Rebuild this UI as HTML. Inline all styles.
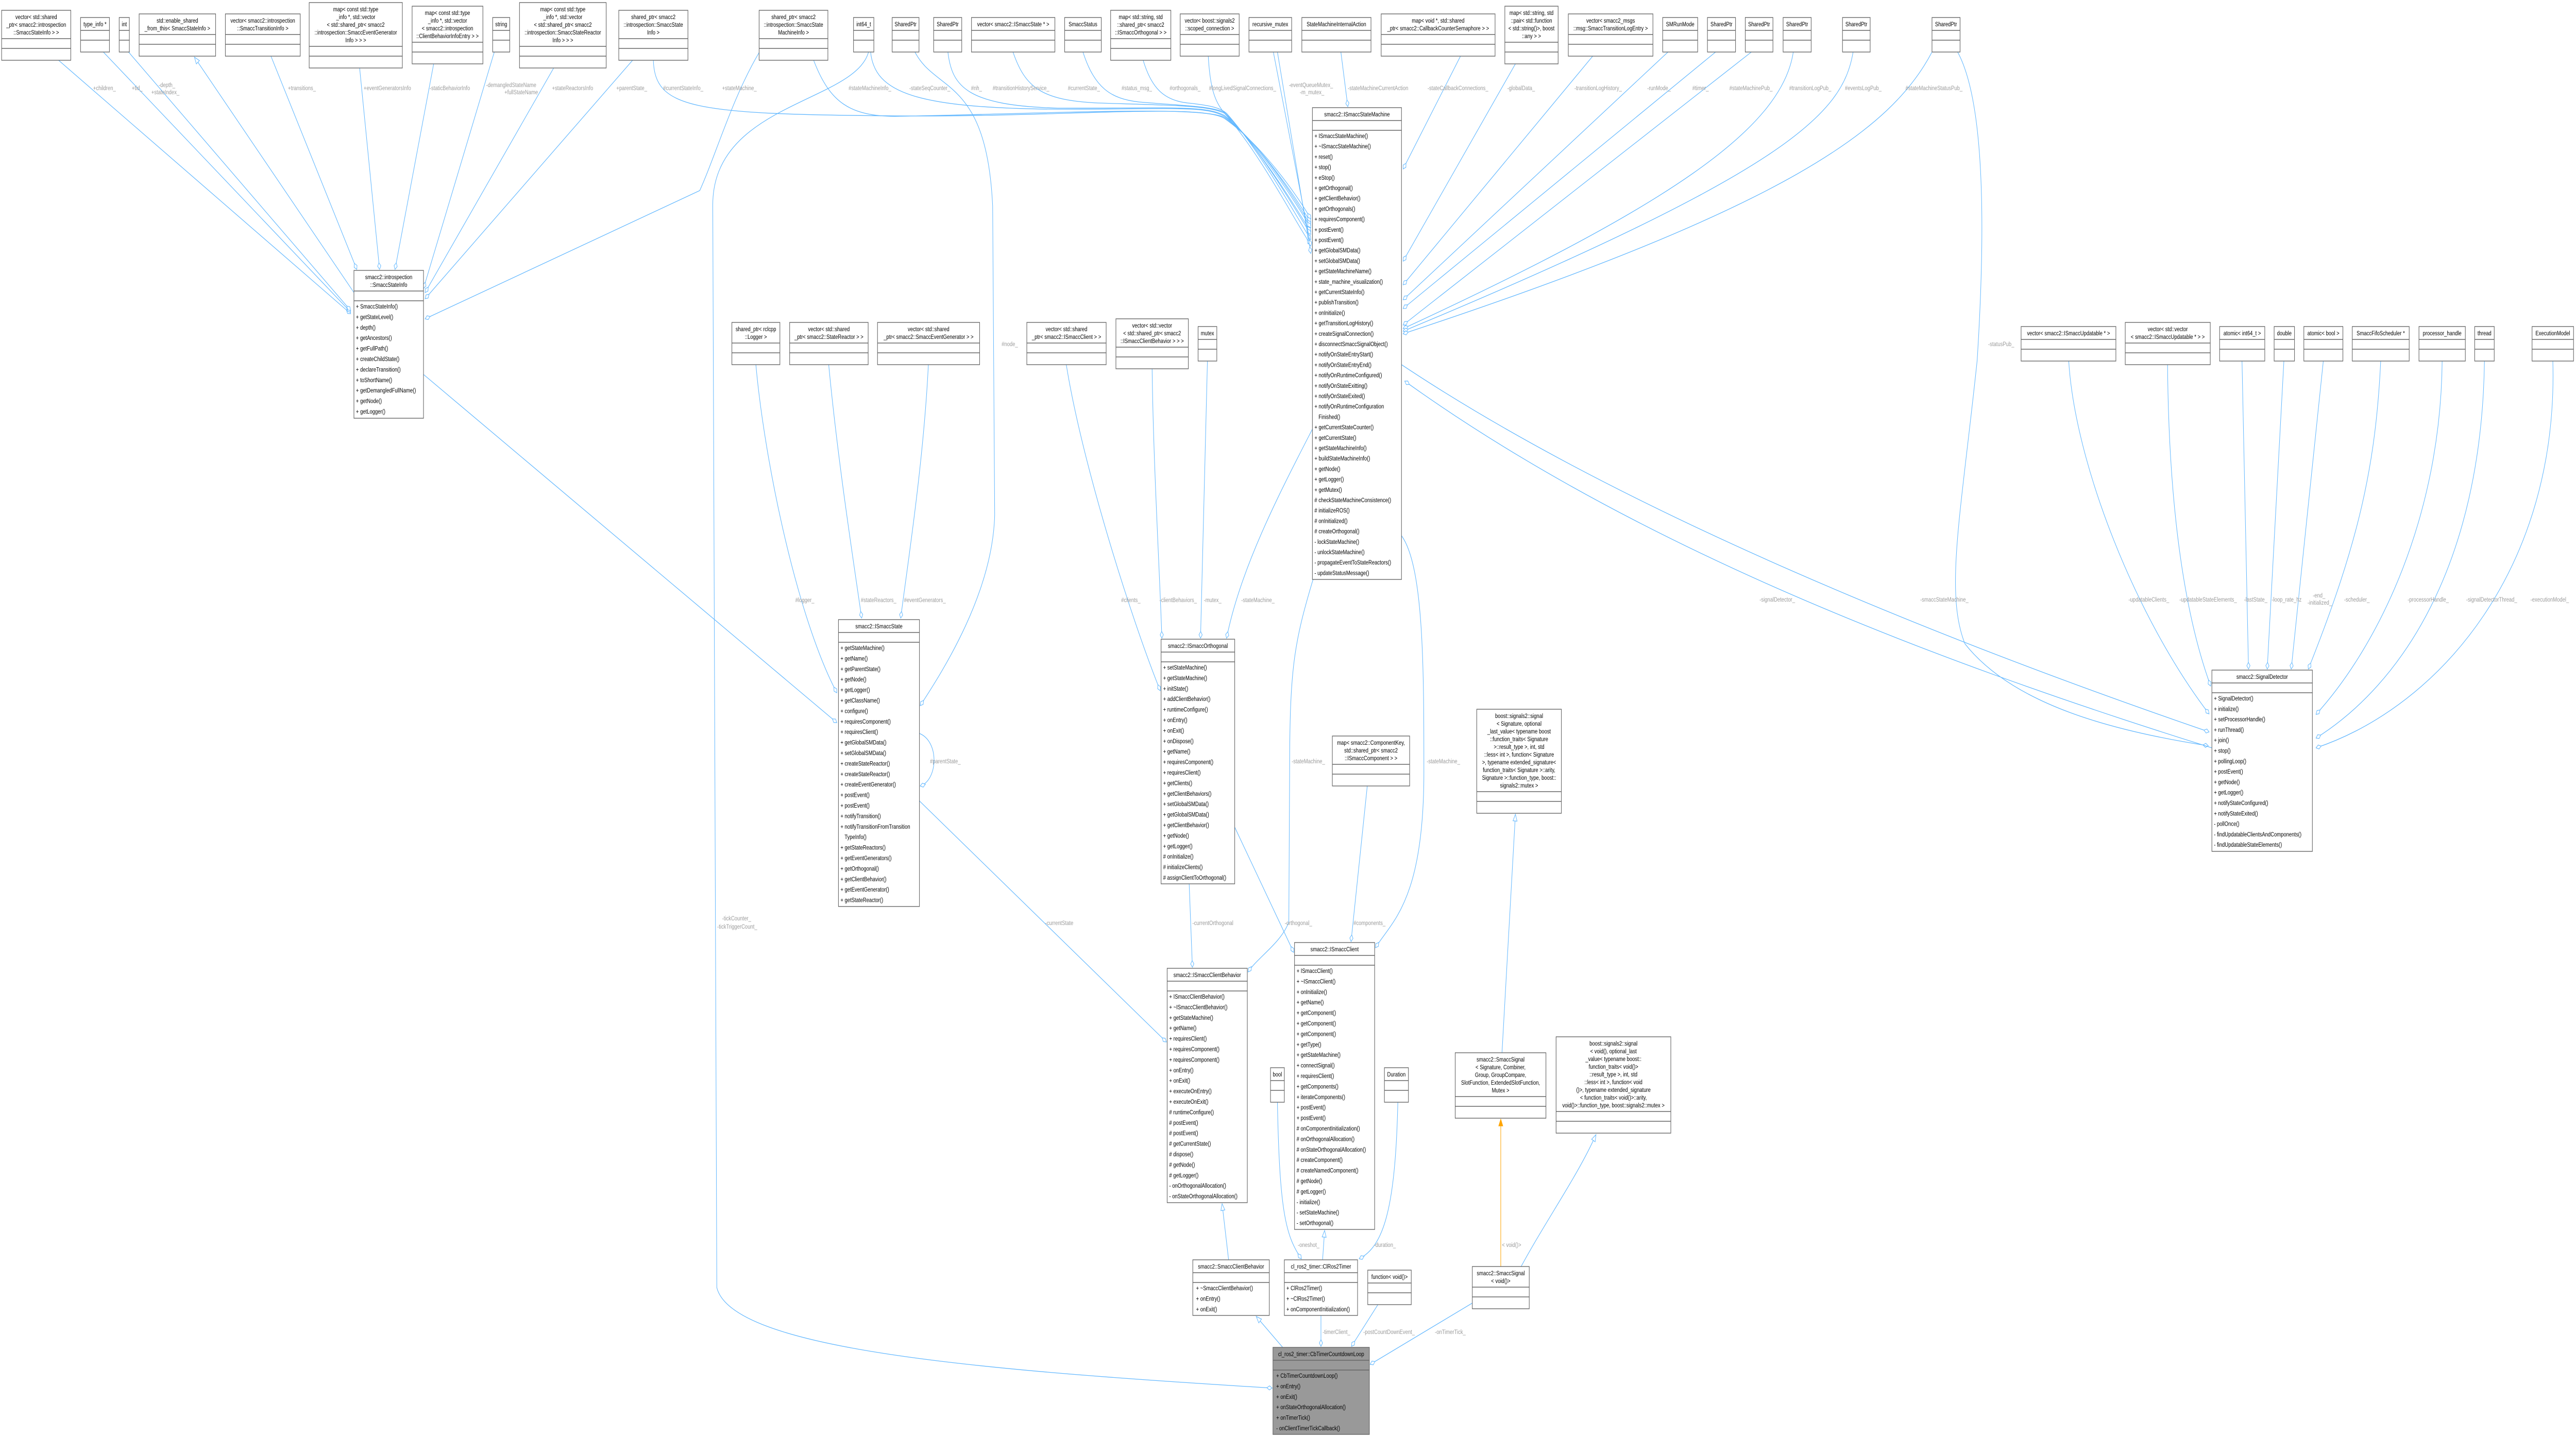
<!DOCTYPE html>
<html><head><meta charset="utf-8"><style>
html,body{margin:0;padding:0;background:#fff;overflow:hidden;width:100vw;height:100vh;}
svg{display:block;position:absolute;left:0;top:0;width:100vw;height:100vh;font-family:"Liberation Sans",Arial,sans-serif;}
.b{fill:#fff;stroke:#666;stroke-width:1.4}
.g{fill:#999;stroke:#666;stroke-width:1.4}
.s{stroke:#666;stroke-width:1.4;fill:none}
.t{font-size:12px;fill:#000;text-anchor:middle}
.m{font-size:12px;fill:#000}
.l{font-size:12px;fill:#9a9a9a}
.e{fill:none;stroke:#63b8ff;stroke-width:1.3}
.eo{fill:none;stroke:#ffa500;stroke-width:1.3}
</style></head><body>
<svg viewBox="0 0 6332 2790" preserveAspectRatio="none" xmlns="http://www.w3.org/2000/svg">
<defs>
<marker id="d" markerWidth="16" markerHeight="10" refX="14" refY="5" orient="auto" markerUnits="userSpaceOnUse"><path d="M1,5 L7.5,1 L14,5 L7.5,9 Z" fill="#fff" stroke="#63b8ff" stroke-width="1.2"/></marker>
<marker id="t" markerWidth="16" markerHeight="12" refX="14" refY="6" orient="auto" markerUnits="userSpaceOnUse"><path d="M1,1 L14,6 L1,11 Z" fill="#fff" stroke="#63b8ff" stroke-width="1.2"/></marker>
<marker id="o" markerWidth="16" markerHeight="12" refX="14" refY="6" orient="auto" markerUnits="userSpaceOnUse"><path d="M1,1 L14,6 L1,11 Z" fill="#ffa500" stroke="#ffa500" stroke-width="1.2"/></marker>
</defs>

<g>
<path class="e" marker-end="url(#d)" d="M144,117 L862,609"/>
<path class="e" marker-end="url(#d)" d="M254,101 L862,606"/>
<path class="e" marker-end="url(#d)" d="M316,101 L862,603"/>
<path class="e" marker-end="url(#t)" d="M870,568 L478,111"/>
<path class="e" marker-end="url(#d)" d="M666,109 L877,523"/>
<path class="e" marker-end="url(#d)" d="M884,132 L933,523"/>
<path class="e" marker-end="url(#d)" d="M1066,124 L971,523"/>
<path class="e" marker-end="url(#d)" d="M1215,101 L1041,560"/>
<path class="e" marker-end="url(#d)" d="M1361,132 L1045,568"/>
<path class="e" marker-end="url(#d)" d="M1555,117 L1045,580"/>
<path class="e" marker-end="url(#d)" d="M1866,102 C1800,190 1760,300 1720,370 L1045,619"/>
<path class="e" marker-end="url(#d)" d="M1606,117 C1610,210 1700,222 2200,225 C2600,228 2950,200 3010,230 C3100,280 3190,380 3222,425"/>
<path class="e" marker-end="url(#d)" d="M2000,117 C2040,200 2090,225 2200,226 C2600,220 2950,205 3010,228 C3100,280 3190,390 3222,432"/>
<path class="e" marker-end="url(#d)" d="M2140,101 C2150,180 2250,210 2600,212 C2900,212 2960,205 3010,226 C3100,280 3190,395 3222,438"/>
<path class="e" marker-end="url(#d)" d="M2330,101 C2340,170 2380,205 2600,210 C2900,210 2960,205 3010,224 C3100,285 3190,400 3222,442"/>
<path class="e" marker-end="url(#d)" d="M2490,101 C2520,170 2560,195 2700,200 C2900,205 2970,205 3010,220 C3100,290 3190,410 3222,450"/>
<path class="e" marker-end="url(#d)" d="M2662,101 C2690,170 2730,192 2800,198 C2900,205 2970,205 3010,218 C3100,290 3190,415 3222,455"/>
<path class="e" marker-end="url(#d)" d="M2810,117 C2830,170 2860,195 2920,200 C2980,205 3000,210 3015,220 C3100,295 3190,425 3222,465"/>
<path class="e" marker-end="url(#d)" d="M2970,109 C2975,180 2990,200 3010,220 C3100,300 3190,440 3222,475"/>
<path class="e" marker-end="url(#d)" d="M3130,101 L3222,478"/>
<path class="e" marker-end="url(#d)" d="M3140,101 L3222,492"/>
<path class="e" marker-end="url(#d)" d="M3296,101 L3313,207"/>
<path class="e" marker-end="url(#d)" d="M3590,109 L3449,328"/>
<path class="e" marker-end="url(#d)" d="M3725,124 L3449,507"/>
<path class="e" marker-end="url(#d)" d="M3915,109 L3449,553"/>
<path class="e" marker-end="url(#d)" d="M4100,101 L3449,582"/>
<path class="e" marker-end="url(#d)" d="M4217,101 L3449,599"/>
<path class="e" marker-end="url(#d)" d="M4305,101 L3449,631"/>
<path class="e" marker-end="url(#d)" d="M4408,101 C4380,250 4100,400 3449,638"/>
<path class="e" marker-end="url(#d)" d="M4555,101 C4530,220 4400,330 3449,643"/>
<path class="e" marker-end="url(#d)" d="M4749,101 C4650,250 4400,400 3449,648"/>
<path class="e" marker-end="url(#d)" d="M4812,101 C4880,200 4880,450 4860,700 C4820,1000 4780,1150 4830,1250 C4950,1370 5200,1420 5428,1448"/>
<path class="e" marker-end="url(#d)" d="M3445,708 C4000,1000 4800,1250 5430,1421"/>
<path class="e" marker-end="url(#d)" d="M5437,1452 C4700,1270 4000,1050 3453,740"/>
<path class="e" marker-end="url(#d)" d="M5085,700 C5100,900 5250,1200 5430,1386"/>
<path class="e" marker-end="url(#d)" d="M5328,708 C5330,900 5350,1150 5434,1332"/>
<path class="e" marker-end="url(#d)" d="M5511,700 L5527,1299"/>
<path class="e" marker-end="url(#d)" d="M5614,700 L5573,1299"/>
<path class="e" marker-end="url(#d)" d="M5711,700 L5632,1299"/>
<path class="e" marker-end="url(#d)" d="M5852,700 C5840,900 5800,1050 5674,1299"/>
<path class="e" marker-end="url(#d)" d="M6003,700 C6000,1000 5850,1250 5693,1387"/>
<path class="e" marker-end="url(#d)" d="M6107,700 C6100,1100 5900,1330 5693,1433"/>
<path class="e" marker-end="url(#d)" d="M6275,700 C6290,1100 6000,1370 5693,1452"/>
<path class="e" marker-end="url(#d)" d="M1858,708 C1880,900 1960,1200 2057,1345"/>
<path class="e" marker-end="url(#d)" d="M2037,708 C2060,900 2100,1100 2118,1200"/>
<path class="e" marker-end="url(#d)" d="M2282,708 C2270,900 2230,1100 2214,1200"/>
<path class="e" marker-end="url(#d)" d="M2249,101 C2300,180 2425,150 2440,400 L2445,1000 C2440,1150 2320,1300 2262,1370"/>
<path class="e" marker-end="url(#d)" d="M1041,727 L2057,1403"/>
<path class="e" marker-end="url(#d)" d="M2260,1424 C2310,1440 2305,1515 2262,1526"/>
<path class="e" marker-end="url(#d)" d="M2621,708 C2660,900 2780,1200 2852,1341"/>
<path class="e" marker-end="url(#d)" d="M2832,716 C2835,900 2850,1100 2856,1239"/>
<path class="e" marker-end="url(#d)" d="M2968,700 C2962,900 2955,1100 2951,1239"/>
<path class="e" marker-end="url(#d)" d="M3228,830 C3150,950 3050,1100 3015,1239"/>
<path class="e" marker-end="url(#d)" d="M3228,1124 C3180,1250 3170,1300 3170,1500 L3168,1790 C3150,1830 3090,1860 3068,1887"/>
<path class="e" marker-end="url(#d)" d="M2923,1714 L2931,1878"/>
<path class="e" marker-end="url(#d)" d="M2260,1555 L2867,2023"/>
<path class="e" marker-end="url(#d)" d="M3445,1040 C3500,1100 3500,1300 3500,1500 C3500,1750 3420,1790 3381,1840"/>
<path class="e" marker-end="url(#d)" d="M3035,1606 L3180,1849"/>
<path class="e" marker-end="url(#d)" d="M3361,1525 L3321,1828"/>
<path class="e" marker-end="url(#t)" d="M3020,2446 L3004,2337"/>
<path class="e" marker-end="url(#t)" d="M3153,2616 L3088,2556"/>
<path class="e" marker-end="url(#t)" d="M3251,2446 L3256,2389"/>
<path class="e" marker-end="url(#d)" d="M3140,2140 C3145,2350 3160,2400 3199,2444"/>
<path class="e" marker-end="url(#d)" d="M3436,2140 C3430,2350 3400,2420 3341,2444"/>
<path class="e" marker-end="url(#d)" d="M3247,2554 L3247,2614"/>
<path class="e" marker-end="url(#d)" d="M3387,2533 L3322,2614"/>
<path class="e" marker-end="url(#d)" d="M3619,2530 L3368,2649"/>
<path class="eo" marker-end="url(#o)" d="M3689,2459 L3689,2173"/>
<path class="e" marker-end="url(#t)" d="M3739,2459 C3800,2370 3880,2280 3923,2203"/>
<path class="e" marker-end="url(#t)" d="M3692,2044 L3725,1581"/>
<path class="e" marker-end="url(#d)" d="M2135,101 C2100,200 1750,200 1752,400 L1762,2500 C1800,2620 2400,2660 3127,2695"/>
</g>

<g class="l">
<text x="229" y="175">+children_</text>
<text x="324" y="175">+tid_</text>
<text x="390" y="169">-depth_</text><text x="372" y="183">+stateIndex_</text>
<text x="708" y="175">+transitions_</text>
<text x="894" y="175">+eventGeneratorsInfo</text>
<text x="1056" y="175">-staticBehaviorInfo</text>
<text x="1195" y="169">-demangledStateName</text><text x="1240" y="183">+fullStateName</text>
<text x="1357" y="175">+stateReactorsInfo</text>
<text x="1515" y="175">+parentState_</text>
<text x="1630" y="175">#currentStateInfo_</text>
<text x="1775" y="175">+stateMachine_</text>
<text x="2086" y="175">#stateMachineInfo_</text>
<text x="2235" y="175">-stateSeqCounter_</text>
<text x="2387" y="175">#nh_</text>
<text x="2440" y="175">#transitionHistoryService_</text>
<text x="2625" y="175">#currentState_</text>
<text x="2757" y="175">#status_msg_</text>
<text x="2875" y="175">#orthogonals_</text>
<text x="2972" y="175">#longLivedSignalConnections_</text>
<text x="3168" y="169">-eventQueueMutex_</text><text x="3195" y="183">-m_mutex_</text>
<text x="3313" y="175">-stateMachineCurrentAction</text>
<text x="3509" y="175">-stateCallbackConnections_</text>
<text x="3705" y="175">-globalData_</text>
<text x="3870" y="175">-transitionLogHistory_</text>
<text x="4049" y="175">-runMode_</text>
<text x="4160" y="175">#timer_</text>
<text x="4251" y="175">#stateMachinePub_</text>
<text x="4398" y="175">#transitionLogPub_</text>
<text x="4535" y="175">#eventsLogPub_</text>
<text x="4684" y="175">#stateMachineStatusPub_</text>
<text x="2462" y="672">#node_</text>
<text x="4887" y="672">-statusPub_</text>
<text x="1955" y="1169">#logger_</text>
<text x="2116" y="1169">#stateReactors_</text>
<text x="2222" y="1169">#eventGenerators_</text>
<text x="2756" y="1169">#clients_</text>
<text x="2850" y="1169">-clientBehaviors_</text>
<text x="2959" y="1169">-mutex_</text>
<text x="3051" y="1169">-stateMachine_</text>
<text x="4325" y="1168">-signalDetector_</text>
<text x="4720" y="1168">-smaccStateMachine_</text>
<text x="5232" y="1168">-updatableClients_</text>
<text x="5357" y="1168">-updatableStateElements_</text>
<text x="5516" y="1168">-lastState_</text>
<text x="5584" y="1168">-loop_rate_hz</text>
<text x="5685" y="1160">-end_</text><text x="5672" y="1174">-initialized_</text>
<text x="5762" y="1168">-scheduler_</text>
<text x="5918" y="1168">-processorHandle_</text>
<text x="6062" y="1168">-signalDetectorThread_</text>
<text x="6220" y="1168">-executionModel_</text>
<text x="2286" y="1482">#parentState_</text>
<text x="3175" y="1482">-stateMachine_</text>
<text x="3507" y="1482">-stateMachine_</text>
<text x="1775" y="1787">-tickCounter_</text><text x="1763" y="1803">-tickTriggerCount_</text>
<text x="2569" y="1796">-currentState</text>
<text x="2931" y="1796">-currentOrthogonal</text>
<text x="3158" y="1796">-orthogonal_</text>
<text x="3327" y="1796">#components_</text>
<text x="3190" y="2421">-oneshot_</text>
<text x="3377" y="2421">-duration_</text>
<text x="3692" y="2421">&lt; void()&gt;</text>
<text x="3251" y="2590">-timerClient_</text>
<text x="3351" y="2590">-postCountDownEvent_</text>
<text x="3527" y="2590">-onTimerTick_</text>
</g>

<g>
<rect class="b" x="4" y="20" width="170" height="97"/><path class="s" d="M4,75h170M4,94h170"/>
<text class="t" x="89" y="37"><tspan x="89">vector&lt; std::shared</tspan><tspan x="89" dy="15">_ptr&lt; smacc2::introspection</tspan><tspan x="89" dy="15">::SmaccStateInfo &gt; &gt;</tspan></text>
<rect class="b" x="198" y="34" width="71" height="67"/><path class="s" d="M198,59h71M198,78h71"/>
<text class="t" x="233.5" y="51">type_info *</text>
<rect class="b" x="293" y="34" width="25" height="67"/><path class="s" d="M293,59h25M293,78h25"/>
<text class="t" x="305.5" y="51">int</text>
<rect class="b" x="342" y="27" width="188" height="82"/><path class="s" d="M342,67h188M342,86h188"/>
<text class="t" x="436" y="44"><tspan x="436">std::enable_shared</tspan><tspan x="436" dy="15">_from_this&lt; SmaccStateInfo &gt;</tspan></text>
<rect class="b" x="554" y="27" width="184" height="82"/><path class="s" d="M554,67h184M554,86h184"/>
<text class="t" x="646" y="44"><tspan x="646">vector&lt; smacc2::introspection</tspan><tspan x="646" dy="15">::SmaccTransitionInfo &gt;</tspan></text>
<rect class="b" x="760" y="5" width="229" height="127"/><path class="s" d="M760,90h229M760,109h229"/>
<text class="t" x="874.5" y="22"><tspan x="874.5">map&lt; const std::type</tspan><tspan x="874.5" dy="15">_info *, std::vector</tspan><tspan x="874.5" dy="15">&lt; std::shared_ptr&lt; smacc2</tspan><tspan x="874.5" dy="15">::introspection::SmaccEventGenerator</tspan><tspan x="874.5" dy="15">Info &gt; &gt; &gt;</tspan></text>
<rect class="b" x="1013" y="12" width="174" height="112"/><path class="s" d="M1013,82h174M1013,101h174"/>
<text class="t" x="1100" y="29"><tspan x="1100">map&lt; const std::type</tspan><tspan x="1100" dy="15">_info *, std::vector</tspan><tspan x="1100" dy="15">&lt; smacc2::introspection</tspan><tspan x="1100" dy="15">::ClientBehaviorInfoEntry &gt; &gt;</tspan></text>
<rect class="b" x="1211" y="34" width="42" height="67"/><path class="s" d="M1211,59h42M1211,78h42"/>
<text class="t" x="1232" y="51">string</text>
<rect class="b" x="1277" y="5" width="213" height="127"/><path class="s" d="M1277,90h213M1277,109h213"/>
<text class="t" x="1383.5" y="22"><tspan x="1383.5">map&lt; const std::type</tspan><tspan x="1383.5" dy="15">_info *, std::vector</tspan><tspan x="1383.5" dy="15">&lt; std::shared_ptr&lt; smacc2</tspan><tspan x="1383.5" dy="15">::introspection::SmaccStateReactor</tspan><tspan x="1383.5" dy="15">Info &gt; &gt; &gt;</tspan></text>
<rect class="b" x="1521" y="20" width="170" height="97"/><path class="s" d="M1521,75h170M1521,94h170"/>
<text class="t" x="1606" y="37"><tspan x="1606">shared_ptr&lt; smacc2</tspan><tspan x="1606" dy="15">::introspection::SmaccState</tspan><tspan x="1606" dy="15">Info &gt;</tspan></text>
<rect class="b" x="1866" y="20" width="169" height="97"/><path class="s" d="M1866,75h169M1866,94h169"/>
<text class="t" x="1950.5" y="37"><tspan x="1950.5">shared_ptr&lt; smacc2</tspan><tspan x="1950.5" dy="15">::introspection::SmaccState</tspan><tspan x="1950.5" dy="15">MachineInfo &gt;</tspan></text>
<rect class="b" x="2098" y="34" width="50" height="67"/><path class="s" d="M2098,59h50M2098,78h50"/>
<text class="t" x="2123" y="51">int64_t</text>
<rect class="b" x="2193" y="34" width="66" height="67"/><path class="s" d="M2193,59h66M2193,78h66"/>
<text class="t" x="2226" y="51">SharedPtr</text>
<rect class="b" x="2295" y="34" width="69" height="67"/><path class="s" d="M2295,59h69M2295,78h69"/>
<text class="t" x="2329.5" y="51">SharedPtr</text>
<rect class="b" x="2388" y="34" width="205" height="67"/><path class="s" d="M2388,59h205M2388,78h205"/>
<text class="t" x="2490.5" y="51">vector&lt; smacc2::ISmaccState * &gt;</text>
<rect class="b" x="2617" y="34" width="90" height="67"/><path class="s" d="M2617,59h90M2617,78h90"/>
<text class="t" x="2662" y="51">SmaccStatus</text>
<rect class="b" x="2730" y="20" width="148" height="97"/><path class="s" d="M2730,75h148M2730,94h148"/>
<text class="t" x="2804" y="37"><tspan x="2804">map&lt; std::string, std</tspan><tspan x="2804" dy="15">::shared_ptr&lt; smacc2</tspan><tspan x="2804" dy="15">::ISmaccOrthogonal &gt; &gt;</tspan></text>
<rect class="b" x="2901" y="27" width="145" height="82"/><path class="s" d="M2901,67h145M2901,86h145"/>
<text class="t" x="2973.5" y="44"><tspan x="2973.5">vector&lt; boost::signals2</tspan><tspan x="2973.5" dy="15">::scoped_connection &gt;</tspan></text>
<rect class="b" x="3070" y="34" width="105" height="67"/><path class="s" d="M3070,59h105M3070,78h105"/>
<text class="t" x="3122.5" y="51">recursive_mutex</text>
<rect class="b" x="3200" y="34" width="170" height="67"/><path class="s" d="M3200,59h170M3200,78h170"/>
<text class="t" x="3285" y="51">StateMachineInternalAction</text>
<rect class="b" x="3395" y="27" width="280" height="82"/><path class="s" d="M3395,67h280M3395,86h280"/>
<text class="t" x="3535" y="44"><tspan x="3535">map&lt; void *, std::shared</tspan><tspan x="3535" dy="15">_ptr&lt; smacc2::CallbackCounterSemaphore &gt; &gt;</tspan></text>
<rect class="b" x="3699" y="12" width="131" height="112"/><path class="s" d="M3699,82h131M3699,101h131"/>
<text class="t" x="3764.5" y="29"><tspan x="3764.5">map&lt; std::string, std</tspan><tspan x="3764.5" dy="15">::pair&lt; std::function</tspan><tspan x="3764.5" dy="15">&lt; std::string()&gt;, boost</tspan><tspan x="3764.5" dy="15">::any &gt; &gt;</tspan></text>
<rect class="b" x="3855" y="27" width="208" height="82"/><path class="s" d="M3855,67h208M3855,86h208"/>
<text class="t" x="3959" y="44"><tspan x="3959">vector&lt; smacc2_msgs</tspan><tspan x="3959" dy="15">::msg::SmaccTransitionLogEntry &gt;</tspan></text>
<rect class="b" x="4087" y="34" width="86" height="67"/><path class="s" d="M4087,59h86M4087,78h86"/>
<text class="t" x="4130" y="51">SMRunMode</text>
<rect class="b" x="4197" y="34" width="69" height="67"/><path class="s" d="M4197,59h69M4197,78h69"/>
<text class="t" x="4231.5" y="51">SharedPtr</text>
<rect class="b" x="4290" y="34" width="68" height="67"/><path class="s" d="M4290,59h68M4290,78h68"/>
<text class="t" x="4324" y="51">SharedPtr</text>
<rect class="b" x="4383" y="34" width="69" height="67"/><path class="s" d="M4383,59h69M4383,78h69"/>
<text class="t" x="4417.5" y="51">SharedPtr</text>
<rect class="b" x="4529" y="34" width="68" height="67"/><path class="s" d="M4529,59h68M4529,78h68"/>
<text class="t" x="4563" y="51">SharedPtr</text>
<rect class="b" x="4749" y="34" width="69" height="67"/><path class="s" d="M4749,59h69M4749,78h69"/>
<text class="t" x="4783.5" y="51">SharedPtr</text>

<rect class="b" x="1799" y="626" width="118" height="82"/><path class="s" d="M1799,666h118M1799,685h118"/>
<text class="t" x="1858" y="643"><tspan x="1858">shared_ptr&lt; rclcpp</tspan><tspan x="1858" dy="15">::Logger &gt;</tspan></text>
<rect class="b" x="1941" y="626" width="193" height="82"/><path class="s" d="M1941,666h193M1941,685h193"/>
<text class="t" x="2037.5" y="643"><tspan x="2037.5">vector&lt; std::shared</tspan><tspan x="2037.5" dy="15">_ptr&lt; smacc2::StateReactor &gt; &gt;</tspan></text>
<rect class="b" x="2157" y="626" width="251" height="82"/><path class="s" d="M2157,666h251M2157,685h251"/>
<text class="t" x="2282.5" y="643"><tspan x="2282.5">vector&lt; std::shared</tspan><tspan x="2282.5" dy="15">_ptr&lt; smacc2::SmaccEventGenerator &gt; &gt;</tspan></text>
<rect class="b" x="2524" y="626" width="195" height="82"/><path class="s" d="M2524,666h195M2524,685h195"/>
<text class="t" x="2621.5" y="643"><tspan x="2621.5">vector&lt; std::shared</tspan><tspan x="2621.5" dy="15">_ptr&lt; smacc2::ISmaccClient &gt; &gt;</tspan></text>
<rect class="b" x="2743" y="619" width="178" height="97"/><path class="s" d="M2743,674h178M2743,693h178"/>
<text class="t" x="2832" y="636"><tspan x="2832">vector&lt; std::vector</tspan><tspan x="2832" dy="15">&lt; std::shared_ptr&lt; smacc2</tspan><tspan x="2832" dy="15">::ISmaccClientBehavior &gt; &gt; &gt;</tspan></text>
<rect class="b" x="2945" y="634" width="46" height="67"/><path class="s" d="M2945,659h46M2945,678h46"/>
<text class="t" x="2968" y="651">mutex</text>
<rect class="b" x="4968" y="634" width="233" height="67"/><path class="s" d="M4968,659h233M4968,678h233"/>
<text class="t" x="5084.5" y="651">vector&lt; smacc2::ISmaccUpdatable * &gt;</text>
<rect class="b" x="5224" y="626" width="209" height="82"/><path class="s" d="M5224,666h209M5224,685h209"/>
<text class="t" x="5328.5" y="643"><tspan x="5328.5">vector&lt; std::vector</tspan><tspan x="5328.5" dy="15">&lt; smacc2::ISmaccUpdatable * &gt; &gt;</tspan></text>
<rect class="b" x="5456" y="634" width="111" height="67"/><path class="s" d="M5456,659h111M5456,678h111"/>
<text class="t" x="5511.5" y="651">atomic&lt; int64_t &gt;</text>
<rect class="b" x="5590" y="634" width="50" height="67"/><path class="s" d="M5590,659h50M5590,678h50"/>
<text class="t" x="5615" y="651">double</text>
<rect class="b" x="5663" y="634" width="96" height="67"/><path class="s" d="M5663,659h96M5663,678h96"/>
<text class="t" x="5711" y="651">atomic&lt; bool &gt;</text>
<rect class="b" x="5782" y="634" width="140" height="67"/><path class="s" d="M5782,659h140M5782,678h140"/>
<text class="t" x="5852" y="651">SmaccFifoScheduler *</text>
<rect class="b" x="5946" y="634" width="114" height="67"/><path class="s" d="M5946,659h114M5946,678h114"/>
<text class="t" x="6003" y="651">processor_handle</text>
<rect class="b" x="6083" y="634" width="48" height="67"/><path class="s" d="M6083,659h48M6083,678h48"/>
<text class="t" x="6107" y="651">thread</text>
<rect class="b" x="6224" y="634" width="102" height="67"/><path class="s" d="M6224,659h102M6224,678h102"/>
<text class="t" x="6275" y="651">ExecutionModel</text>

<rect class="b" x="3275" y="1429" width="190" height="97"/><path class="s" d="M3275,1484h190M3275,1503h190"/>
<text class="t" x="3370" y="1446"><tspan x="3370">map&lt; smacc2::ComponentKey,</tspan><tspan x="3370" dy="15">std::shared_ptr&lt; smacc2</tspan><tspan x="3370" dy="15">::ISmaccComponent &gt; &gt;</tspan></text>
<rect class="b" x="3630" y="1377" width="208" height="202"/><path class="s" d="M3630,1537h208M3630,1556h208"/>
<text class="t" x="3734" y="1394"><tspan x="3734">boost::signals2::signal</tspan><tspan x="3734" dy="15">&lt; Signature, optional</tspan><tspan x="3734" dy="15">_last_value&lt; typename boost</tspan><tspan x="3734" dy="15">::function_traits&lt; Signature</tspan><tspan x="3734" dy="15">&gt;::result_type &gt;, int, std</tspan><tspan x="3734" dy="15">::less&lt; int &gt;, function&lt; Signature</tspan><tspan x="3734" dy="15">&gt;, typename extended_signature&lt;</tspan><tspan x="3734" dy="15">function_traits&lt; Signature &gt;::arity,</tspan><tspan x="3734" dy="15">Signature &gt;::function_type, boost::</tspan><tspan x="3734" dy="15">signals2::mutex &gt;</tspan></text>
<rect class="b" x="3123" y="2073" width="34" height="67"/><path class="s" d="M3123,2098h34M3123,2117h34"/>
<text class="t" x="3140" y="2090">bool</text>
<rect class="b" x="3403" y="2073" width="59" height="67"/><path class="s" d="M3403,2098h59M3403,2117h59"/>
<text class="t" x="3432.5" y="2090">Duration</text>
<rect class="b" x="3362" y="2466" width="107" height="67"/><path class="s" d="M3362,2491h107M3362,2510h107"/>
<text class="t" x="3415.5" y="2483">function&lt; void()&gt;</text>
<rect class="b" x="3577" y="2044" width="223" height="127"/><path class="s" d="M3577,2129h223M3577,2148h223"/>
<text class="t" x="3688.5" y="2061"><tspan x="3688.5">smacc2::SmaccSignal</tspan><tspan x="3688.5" dy="15">&lt; Signature, Combiner,</tspan><tspan x="3688.5" dy="15">Group, GroupCompare,</tspan><tspan x="3688.5" dy="15">SlotFunction, ExtendedSlotFunction,</tspan><tspan x="3688.5" dy="15">Mutex &gt;</tspan></text>
<rect class="b" x="3825" y="2013" width="282" height="187"/><path class="s" d="M3825,2158h282M3825,2177h282"/>
<text class="t" x="3966" y="2030"><tspan x="3966">boost::signals2::signal</tspan><tspan x="3966" dy="15">&lt; void(), optional_last</tspan><tspan x="3966" dy="15">_value&lt; typename boost::</tspan><tspan x="3966" dy="15">function_traits&lt; void()&gt;</tspan><tspan x="3966" dy="15">::result_type &gt;, int, std</tspan><tspan x="3966" dy="15">::less&lt; int &gt;, function&lt; void</tspan><tspan x="3966" dy="15">()&gt;, typename extended_signature</tspan><tspan x="3966" dy="15">&lt; function_traits&lt; void()&gt;::arity,</tspan><tspan x="3966" dy="15">void()&gt;::function_type, boost::signals2::mutex &gt;</tspan></text>
<rect class="b" x="3619" y="2459" width="140" height="82"/><path class="s" d="M3619,2499h140M3619,2518h140"/>
<text class="t" x="3689" y="2476"><tspan x="3689">smacc2::SmaccSignal</tspan><tspan x="3689" dy="15">&lt; void()&gt;</tspan></text>
</g>

<rect class="b" x="870" y="525" width="171" height="287"/><path class="s" d="M870,565h171M870,584h171"/>
<text class="t" x="955.5" y="542"><tspan x="955.5">smacc2::introspection</tspan><tspan x="955.5" dy="15">::SmaccStateInfo</tspan></text>
<text class="m" y="599"><tspan x="875">+ SmaccStateInfo()</tspan><tspan x="875" dy="20.4">+ getStateLevel()</tspan><tspan x="875" dy="20.4">+ depth()</tspan><tspan x="875" dy="20.4">+ getAncestors()</tspan><tspan x="875" dy="20.4">+ getFullPath()</tspan><tspan x="875" dy="20.4">+ createChildState()</tspan><tspan x="875" dy="20.4">+ declareTransition()</tspan><tspan x="875" dy="20.4">+ toShortName()</tspan><tspan x="875" dy="20.4">+ getDemangledFullName()</tspan><tspan x="875" dy="20.4">+ getNode()</tspan><tspan x="875" dy="20.4">+ getLogger()</tspan></text>

<rect class="b" x="3226" y="209" width="219" height="916"/><path class="s" d="M3226,234h219M3226,253h219"/>
<text class="t" x="3335.5" y="226">smacc2::ISmaccStateMachine</text>
<text class="m" y="268"><tspan x="3231">+ ISmaccStateMachine()</tspan><tspan x="3231" dy="20.2">+ ~ISmaccStateMachine()</tspan><tspan x="3231" dy="20.2">+ reset()</tspan><tspan x="3231" dy="20.2">+ stop()</tspan><tspan x="3231" dy="20.2">+ eStop()</tspan><tspan x="3231" dy="20.2">+ getOrthogonal()</tspan><tspan x="3231" dy="20.2">+ getClientBehavior()</tspan><tspan x="3231" dy="20.2">+ getOrthogonals()</tspan><tspan x="3231" dy="20.2">+ requiresComponent()</tspan><tspan x="3231" dy="20.2">+ postEvent()</tspan><tspan x="3231" dy="20.2">+ postEvent()</tspan><tspan x="3231" dy="20.2">+ getGlobalSMData()</tspan><tspan x="3231" dy="20.2">+ setGlobalSMData()</tspan><tspan x="3231" dy="20.2">+ getStateMachineName()</tspan><tspan x="3231" dy="20.2">+ state_machine_visualization()</tspan><tspan x="3231" dy="20.2">+ getCurrentStateInfo()</tspan><tspan x="3231" dy="20.2">+ publishTransition()</tspan><tspan x="3231" dy="20.2">+ onInitialize()</tspan><tspan x="3231" dy="20.2">+ getTransitionLogHistory()</tspan><tspan x="3231" dy="20.2">+ createSignalConnection()</tspan><tspan x="3231" dy="20.2">+ disconnectSmaccSignalObject()</tspan><tspan x="3231" dy="20.2">+ notifyOnStateEntryStart()</tspan><tspan x="3231" dy="20.2">+ notifyOnStateEntryEnd()</tspan><tspan x="3231" dy="20.2">+ notifyOnRuntimeConfigured()</tspan><tspan x="3231" dy="20.2">+ notifyOnStateExitting()</tspan><tspan x="3231" dy="20.2">+ notifyOnStateExited()</tspan><tspan x="3231" dy="20.2">+ notifyOnRuntimeConfiguration</tspan><tspan x="3241" dy="20.2">Finished()</tspan><tspan x="3231" dy="20.2">+ getCurrentStateCounter()</tspan><tspan x="3231" dy="20.2">+ getCurrentState()</tspan><tspan x="3231" dy="20.2">+ getStateMachineInfo()</tspan><tspan x="3231" dy="20.2">+ buildStateMachineInfo()</tspan><tspan x="3231" dy="20.2">+ getNode()</tspan><tspan x="3231" dy="20.2">+ getLogger()</tspan><tspan x="3231" dy="20.2">+ getMutex()</tspan><tspan x="3231" dy="20.2"># checkStateMachineConsistence()</tspan><tspan x="3231" dy="20.2"># initializeROS()</tspan><tspan x="3231" dy="20.2"># onInitialized()</tspan><tspan x="3231" dy="20.2"># createOrthogonal()</tspan><tspan x="3231" dy="20.2">- lockStateMachine()</tspan><tspan x="3231" dy="20.2">- unlockStateMachine()</tspan><tspan x="3231" dy="20.2">- propagateEventToStateReactors()</tspan><tspan x="3231" dy="20.2">- updateStatusMessage()</tspan></text>

<rect class="b" x="2061" y="1203" width="199" height="557"/><path class="s" d="M2061,1228h199M2061,1247h199"/>
<text class="t" x="2160.5" y="1220">smacc2::ISmaccState</text>
<text class="m" y="1262"><tspan x="2066">+ getStateMachine()</tspan><tspan x="2066" dy="20.4">+ getName()</tspan><tspan x="2066" dy="20.4">+ getParentState()</tspan><tspan x="2066" dy="20.4">+ getNode()</tspan><tspan x="2066" dy="20.4">+ getLogger()</tspan><tspan x="2066" dy="20.4">+ getClassName()</tspan><tspan x="2066" dy="20.4">+ configure()</tspan><tspan x="2066" dy="20.4">+ requiresComponent()</tspan><tspan x="2066" dy="20.4">+ requiresClient()</tspan><tspan x="2066" dy="20.4">+ getGlobalSMData()</tspan><tspan x="2066" dy="20.4">+ setGlobalSMData()</tspan><tspan x="2066" dy="20.4">+ createStateReactor()</tspan><tspan x="2066" dy="20.4">+ createStateReactor()</tspan><tspan x="2066" dy="20.4">+ createEventGenerator()</tspan><tspan x="2066" dy="20.4">+ postEvent()</tspan><tspan x="2066" dy="20.4">+ postEvent()</tspan><tspan x="2066" dy="20.4">+ notifyTransition()</tspan><tspan x="2066" dy="20.4">+ notifyTransitionFromTransition</tspan><tspan x="2076" dy="20.4">TypeInfo()</tspan><tspan x="2066" dy="20.4">+ getStateReactors()</tspan><tspan x="2066" dy="20.4">+ getEventGenerators()</tspan><tspan x="2066" dy="20.4">+ getOrthogonal()</tspan><tspan x="2066" dy="20.4">+ getClientBehavior()</tspan><tspan x="2066" dy="20.4">+ getEventGenerator()</tspan><tspan x="2066" dy="20.4">+ getStateReactor()</tspan></text>

<rect class="b" x="2854" y="1241" width="181" height="475"/><path class="s" d="M2854,1266h181M2854,1285h181"/>
<text class="t" x="2944.5" y="1258">smacc2::ISmaccOrthogonal</text>
<text class="m" y="1300"><tspan x="2859">+ setStateMachine()</tspan><tspan x="2859" dy="20.4">+ getStateMachine()</tspan><tspan x="2859" dy="20.4">+ initState()</tspan><tspan x="2859" dy="20.4">+ addClientBehavior()</tspan><tspan x="2859" dy="20.4">+ runtimeConfigure()</tspan><tspan x="2859" dy="20.4">+ onEntry()</tspan><tspan x="2859" dy="20.4">+ onExit()</tspan><tspan x="2859" dy="20.4">+ onDispose()</tspan><tspan x="2859" dy="20.4">+ getName()</tspan><tspan x="2859" dy="20.4">+ requiresComponent()</tspan><tspan x="2859" dy="20.4">+ requiresClient()</tspan><tspan x="2859" dy="20.4">+ getClients()</tspan><tspan x="2859" dy="20.4">+ getClientBehaviors()</tspan><tspan x="2859" dy="20.4">+ setGlobalSMData()</tspan><tspan x="2859" dy="20.4">+ getGlobalSMData()</tspan><tspan x="2859" dy="20.4">+ getClientBehavior()</tspan><tspan x="2859" dy="20.4">+ getNode()</tspan><tspan x="2859" dy="20.4">+ getLogger()</tspan><tspan x="2859" dy="20.4"># onInitialize()</tspan><tspan x="2859" dy="20.4"># initializeClients()</tspan><tspan x="2859" dy="20.4"># assignClientToOrthogonal()</tspan></text>

<rect class="b" x="2869" y="1880" width="197" height="455"/><path class="s" d="M2869,1905h197M2869,1924h197"/>
<text class="t" x="2967.5" y="1897">smacc2::ISmaccClientBehavior</text>
<text class="m" y="1939"><tspan x="2874">+ ISmaccClientBehavior()</tspan><tspan x="2874" dy="20.4">+ ~ISmaccClientBehavior()</tspan><tspan x="2874" dy="20.4">+ getStateMachine()</tspan><tspan x="2874" dy="20.4">+ getName()</tspan><tspan x="2874" dy="20.4">+ requiresClient()</tspan><tspan x="2874" dy="20.4">+ requiresComponent()</tspan><tspan x="2874" dy="20.4">+ requiresComponent()</tspan><tspan x="2874" dy="20.4">+ onEntry()</tspan><tspan x="2874" dy="20.4">+ onExit()</tspan><tspan x="2874" dy="20.4">+ executeOnEntry()</tspan><tspan x="2874" dy="20.4">+ executeOnExit()</tspan><tspan x="2874" dy="20.4"># runtimeConfigure()</tspan><tspan x="2874" dy="20.4"># postEvent()</tspan><tspan x="2874" dy="20.4"># postEvent()</tspan><tspan x="2874" dy="20.4"># getCurrentState()</tspan><tspan x="2874" dy="20.4"># dispose()</tspan><tspan x="2874" dy="20.4"># getNode()</tspan><tspan x="2874" dy="20.4"># getLogger()</tspan><tspan x="2874" dy="20.4">- onOrthogonalAllocation()</tspan><tspan x="2874" dy="20.4">- onStateOrthogonalAllocation()</tspan></text>

<rect class="b" x="3182" y="1830" width="197" height="557"/><path class="s" d="M3182,1855h197M3182,1874h197"/>
<text class="t" x="3280.5" y="1847">smacc2::ISmaccClient</text>
<text class="m" y="1889"><tspan x="3187">+ ISmaccClient()</tspan><tspan x="3187" dy="20.4">+ ~ISmaccClient()</tspan><tspan x="3187" dy="20.4">+ onInitialize()</tspan><tspan x="3187" dy="20.4">+ getName()</tspan><tspan x="3187" dy="20.4">+ getComponent()</tspan><tspan x="3187" dy="20.4">+ getComponent()</tspan><tspan x="3187" dy="20.4">+ getComponent()</tspan><tspan x="3187" dy="20.4">+ getType()</tspan><tspan x="3187" dy="20.4">+ getStateMachine()</tspan><tspan x="3187" dy="20.4">+ connectSignal()</tspan><tspan x="3187" dy="20.4">+ requiresClient()</tspan><tspan x="3187" dy="20.4">+ getComponents()</tspan><tspan x="3187" dy="20.4">+ iterateComponents()</tspan><tspan x="3187" dy="20.4">+ postEvent()</tspan><tspan x="3187" dy="20.4">+ postEvent()</tspan><tspan x="3187" dy="20.4"># onComponentInitialization()</tspan><tspan x="3187" dy="20.4"># onOrthogonalAllocation()</tspan><tspan x="3187" dy="20.4"># onStateOrthogonalAllocation()</tspan><tspan x="3187" dy="20.4"># createComponent()</tspan><tspan x="3187" dy="20.4"># createNamedComponent()</tspan><tspan x="3187" dy="20.4"># getNode()</tspan><tspan x="3187" dy="20.4"># getLogger()</tspan><tspan x="3187" dy="20.4">- initialize()</tspan><tspan x="3187" dy="20.4">- setStateMachine()</tspan><tspan x="3187" dy="20.4">- setOrthogonal()</tspan></text>

<rect class="b" x="2932" y="2446" width="188" height="108"/><path class="s" d="M2932,2471h188M2932,2490h188"/>
<text class="t" x="3026" y="2463">smacc2::SmaccClientBehavior</text>
<text class="m" y="2505"><tspan x="2940">+ ~SmaccClientBehavior()</tspan><tspan x="2940" dy="20.4">+ onEntry()</tspan><tspan x="2940" dy="20.4">+ onExit()</tspan></text>

<rect class="b" x="3157" y="2446" width="180" height="108"/><path class="s" d="M3157,2471h180M3157,2490h180"/>
<text class="t" x="3247" y="2463">cl_ros2_timer::ClRos2Timer</text>
<text class="m" y="2505"><tspan x="3162">+ ClRos2Timer()</tspan><tspan x="3162" dy="20.4">+ ~ClRos2Timer()</tspan><tspan x="3162" dy="20.4">+ onComponentInitialization()</tspan></text>

<rect class="g" x="3129" y="2616" width="237" height="169"/><path class="s" d="M3129,2641h237M3129,2660h237"/>
<text class="t" x="3247.5" y="2633">cl_ros2_timer::CbTimerCountdownLoop</text>
<text class="m" y="2675"><tspan x="3137">+ CbTimerCountdownLoop()</tspan><tspan x="3137" dy="20.4">+ onEntry()</tspan><tspan x="3137" dy="20.4">+ onExit()</tspan><tspan x="3137" dy="20.4">+ onStateOrthogonalAllocation()</tspan><tspan x="3137" dy="20.4">+ onTimerTick()</tspan><tspan x="3137" dy="20.4">- onClientTimerTickCallback()</tspan></text>

<rect class="b" x="5437" y="1301" width="247" height="352"/><path class="s" d="M5437,1326h247M5437,1345h247"/>
<text class="t" x="5560.5" y="1318">smacc2::SignalDetector</text>
<text class="m" y="1360"><tspan x="5442">+ SignalDetector()</tspan><tspan x="5442" dy="20.3">+ initialize()</tspan><tspan x="5442" dy="20.3">+ setProcessorHandle()</tspan><tspan x="5442" dy="20.3">+ runThread()</tspan><tspan x="5442" dy="20.3">+ join()</tspan><tspan x="5442" dy="20.3">+ stop()</tspan><tspan x="5442" dy="20.3">+ pollingLoop()</tspan><tspan x="5442" dy="20.3">+ postEvent()</tspan><tspan x="5442" dy="20.3">+ getNode()</tspan><tspan x="5442" dy="20.3">+ getLogger()</tspan><tspan x="5442" dy="20.3">+ notifyStateConfigured()</tspan><tspan x="5442" dy="20.3">+ notifyStateExited()</tspan><tspan x="5442" dy="20.3">- pollOnce()</tspan><tspan x="5442" dy="20.3">- findUpdatableClientsAndComponents()</tspan><tspan x="5442" dy="20.3">- findUpdatableStateElements()</tspan></text>
</svg>
</body></html>
